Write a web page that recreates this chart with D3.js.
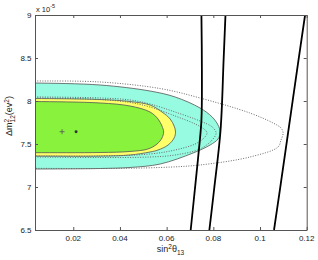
<!DOCTYPE html>
<html><head><meta charset="utf-8">
<script src="https://cdn.jsdelivr.net/npm/d3@7"></script>
<style>
html,body{margin:0;padding:0;background:#fff;}
svg{display:block;font-family:"Liberation Sans",Arial,sans-serif;}
</style></head><body>
<svg id="c" width="318" height="260"></svg>
<script>
// ---- data ----
const xTicks = [0.02, 0.04, 0.06, 0.08, 0.1, 0.12];
const xTickLabels = ["0.02", "0.04", "0.06", "0.08", "0.1", "0.12"];
const yTicks = [6.5, 7, 7.5, 8, 8.5, 9];
const yTickLabels = ["6.5", "7", "7.5", "8", "8.5", "9"];

// filled confidence regions [sin^2 theta13, dm^2 (1e-5 eV^2)]
const region3 = [[0.0036,8.209],[0.0315,8.186],[0.0529,8.116],[0.0636,8.047],[0.0743,7.919],[0.0795,7.814],[0.0820,7.721],[0.0829,7.640],[0.0820,7.558],[0.0786,7.488],[0.0713,7.395],[0.0572,7.267],[0.0443,7.227],[0.0315,7.215],[0.0036,7.209]];
const region2 = [[0.0036,8.029],[0.0315,8.017],[0.0443,7.994],[0.0529,7.953],[0.0580,7.872],[0.0615,7.791],[0.0632,7.709],[0.0638,7.640],[0.0632,7.570],[0.0606,7.488],[0.0563,7.430],[0.0529,7.407],[0.0443,7.372],[0.0315,7.360],[0.0036,7.360]];
const region1 = [[0.0036,7.994],[0.0315,7.977],[0.0443,7.942],[0.0529,7.872],[0.0563,7.791],[0.0580,7.709],[0.0587,7.640],[0.0580,7.570],[0.0559,7.500],[0.0520,7.442],[0.0443,7.413],[0.0315,7.401],[0.0036,7.399]];
// dotted contours
const dottedOuter = [[0.0036,8.233],[0.0315,8.221],[0.0572,8.145],[0.0743,8.035],[0.0957,7.860],[0.1056,7.744],[0.1090,7.686],[0.1099,7.628],[0.1090,7.547],[0.1077,7.465],[0.0957,7.349],[0.0743,7.256],[0.0572,7.227],[0.0315,7.215],[0.0036,7.217]];
const dottedMid = [[0.0036,8.047],[0.0315,8.035],[0.0443,8.012],[0.0529,7.965],[0.0636,7.872],[0.0743,7.767],[0.0795,7.698],[0.0812,7.628],[0.0795,7.547],[0.0743,7.442],[0.0636,7.372],[0.0529,7.349],[0.0315,7.343],[0.0036,7.349]];
const dottedInner = [[0.0036,8.035],[0.0315,8.017],[0.0443,7.983],[0.0529,7.930],[0.0636,7.826],[0.0722,7.733],[0.0760,7.674],[0.0773,7.628],[0.0760,7.570],[0.0722,7.500],[0.0636,7.430],[0.0529,7.384],[0.0315,7.360],[0.0036,7.360]];
// solid black constraint curves
const curveA = [[0.0749,9],[0.0751,8.36],[0.0749,7.78],[0.0738,7.43],[0.0725,7.08],[0.0703,6.5]];
const curveB = [[0.0852,9],[0.0844,8.477],[0.0831,7.663],[0.0803,6.965],[0.0783,6.5]];
const curveC = [[0.1193,9],[0.1165,8.477],[0.1122,7.663],[0.1085,6.965],[0.1060,6.5]];
// best-fit markers
const plusPoint = [[0.0152, 7.643]];
const starPoint = [[0.0212, 7.643]];

// ---- drawing ----
const svg = d3.select("#c");
const L = 35, T = 15, R = 306.7, B = 230;
const x = d3.scaleLinear().domain([0.0036, 0.12]).range([L, R]);
const y = d3.scaleLinear().domain([6.5, 9]).range([B, T]);

svg.append("defs").append("clipPath").attr("id","clip")
  .append("rect").attr("x",L).attr("y",T).attr("width",R-L).attr("height",B-T);
const g = svg.append("g").attr("clip-path","url(#clip)");

const pad = pts => [[-0.015, pts[0][1]], [-0.005, pts[0][1]], ...pts,
                    [-0.005, pts[pts.length-1][1]], [-0.015, pts[pts.length-1][1]]];
const closed = d3.line().x(d => x(d[0])).y(d => y(d[1])).curve(d3.curveCatmullRomClosed.alpha(0.5));
const open = d3.line().x(d => x(d[0])).y(d => y(d[1])).curve(d3.curveCatmullRom.alpha(0.5));

[[region3,"#96fbe1"],[region2,"#ffff6a"],[region1,"#88f23c"]].forEach(([pts,col]) => {
  g.append("path").attr("d", closed(pad(pts))).attr("fill", col)
   .attr("stroke","#555").attr("stroke-width",0.8);
});
[dottedOuter, dottedMid, dottedInner].forEach(pts => {
  g.append("path").attr("d", closed(pad(pts))).attr("fill","none")
   .attr("stroke","#6a6a6a").attr("stroke-width",1).attr("stroke-dasharray","1,1.5");
});
[curveA, curveB, curveC].forEach(pts => {
  g.append("path").attr("d", open(pts)).attr("fill","none")
   .attr("stroke","#000").attr("stroke-width",1.8);
});
// markers
plusPoint.forEach(p => {
  const cx = x(p[0]), cy = y(p[1]);
  g.append("path").attr("d", `M${cx-2.5},${cy}H${cx+2.5}M${cx},${cy-2.5}V${cy+2.5}`)
   .attr("stroke","#555").attr("stroke-width",0.8);
});
starPoint.forEach(p => {
  const cx = x(p[0]), cy = y(p[1]);
  g.append("path").attr("d", d3.symbol(d3.symbolCircle, 7)()).attr("transform",`translate(${cx},${cy})`)
   .attr("fill","#333");
});

// axes
const axStyle = sel => { sel.selectAll("path,line").attr("stroke","#555"); sel.selectAll("text").remove(); };
svg.append("g").attr("transform",`translate(0,${B})`)
  .call(d3.axisBottom(x).tickValues(xTicks).tickSize(-3).tickSizeOuter(0)).call(axStyle);
svg.append("g").attr("transform",`translate(0,${T})`)
  .call(d3.axisTop(x).tickValues(xTicks).tickSize(-3).tickSizeOuter(0)).call(axStyle);
svg.append("g").attr("transform",`translate(${L},0)`)
  .call(d3.axisLeft(y).tickValues(yTicks).tickSize(-3).tickSizeOuter(0)).call(axStyle);
svg.append("g").attr("transform",`translate(${R},0)`)
  .call(d3.axisRight(y).tickValues(yTicks).tickSize(-3).tickSizeOuter(0)).call(axStyle);

// tick labels
svg.append("g").selectAll("text").data(xTicks).join("text")
  .attr("x", d => x(d)).attr("y", B + 11).attr("text-anchor","middle")
  .attr("font-size",8).attr("fill","#222").text((d,i) => xTickLabels[i]);
svg.append("g").selectAll("text").data(yTicks).join("text")
  .attr("x", L - 3.5).attr("y", d => y(d) + 3).attr("text-anchor","end")
  .attr("font-size",8).attr("fill","#222").text((d,i) => yTickLabels[i]);

// exponent
const ex = svg.append("text").attr("x", L + 1).attr("y", T - 3.5).attr("font-size",7.5).attr("fill","#222");
ex.append("tspan").text("x 10");
ex.append("tspan").attr("dy",-3.5).attr("font-size",5.5).text("-5");

// x label
const xl = svg.append("text").attr("x", 170.5).attr("y", 252).attr("text-anchor","middle")
  .attr("font-size",9).attr("fill","#222");
xl.append("tspan").text("sin");
xl.append("tspan").attr("dy",-3).attr("font-size",6.5).text("2");
xl.append("tspan").attr("dy",3).text("θ");
xl.append("tspan").attr("dy",2.5).attr("font-size",6.5).text("13");

// y label
const yl = svg.append("text").attr("transform","translate(12,116) rotate(-90)")
  .attr("text-anchor","middle").attr("font-size",9).attr("fill","#222");
yl.append("tspan").text("Δm");
yl.append("tspan").attr("dy",-3.5).attr("font-size",6.5).text("2");
yl.append("tspan").attr("dy",6).attr("dx",-3.6).attr("font-size",6.5).text("12");
yl.append("tspan").attr("dy",-2.5).text("(ev");
yl.append("tspan").attr("dy",-3.5).attr("font-size",6.5).text("2");
yl.append("tspan").attr("dy",3.5).text(")");
</script></body></html>
